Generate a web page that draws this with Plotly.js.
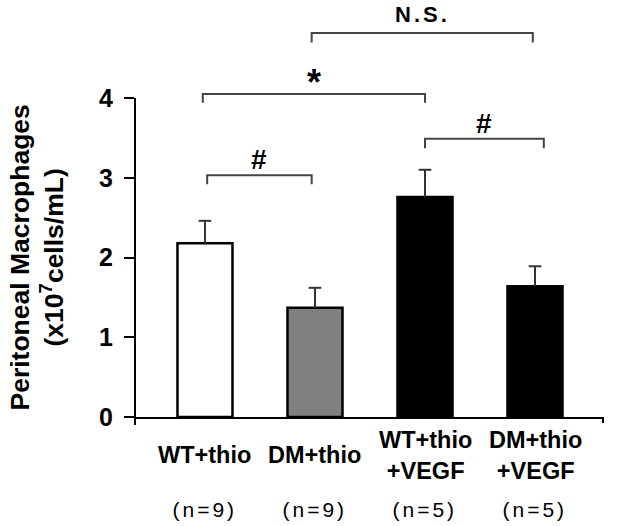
<!DOCTYPE html>
<html>
<head>
<meta charset="utf-8">
<script src="https://cdn.plot.ly/plotly-3.0.1.min.js"></script>
<style>
  html, body { margin: 0; padding: 0; background: #fff; }
  #chart { width: 617px; height: 526px; }
</style>
</head>
<body>
<div id="chart"></div>
<script>
// ---- data ----
const categories = ["WT+thio", "DM+thio", "WT+thio<br>+VEGF", "DM+thio<br>+VEGF"];
const sampleSizes = ["(n=9)", "(n=9)", "(n=5)", "(n=5)"];
const meanValues = [2.18, 1.37, 2.76, 1.64];
const semValues = [0.28, 0.25, 0.34, 0.25];
const barColors = ["#ffffff", "#808080", "#000000", "#000000"];
const yTicks = [0, 1, 2, 3, 4];

// significance brackets (category positions and heights in data units)
const bracketStart = [0.02, -0.02, 0.97, 2.0];
const bracketEnd   = [0.97, 2.0, 2.98, 3.08];
const bracketTop   = [3.03, 4.05, 4.815, 3.49];
const bracketLeg   = [0.11, 0.11, 0.12, 0.12];
const bracketLabel = ["#", "*", "N.S.", "#"];

const FONT = "Liberation Sans, Arial, Helvetica, sans-serif";
const yMax = 5.229;
const xRange = [-0.636, 3.618];
const xIdx = categories.map((_, i) => i);

const barTrace = {
  type: "bar",
  x: xIdx,
  y: meanValues,
  width: 0.5,
  marker: { color: barColors, line: { color: "#000", width: 2.5 } },
  hoverinfo: "skip"
};

// upper-only error bars: stems and caps derived from the data arrays
const stemX = [], stemY = [];
xIdx.forEach((x, i) => {
  stemX.push(x, x, null);
  stemY.push(meanValues[i], meanValues[i] + semValues[i], null);
});
const stemTrace = {
  type: "scatter", mode: "lines", x: stemX, y: stemY,
  line: { color: "#333", width: 2 }, hoverinfo: "skip"
};
const capTrace = {
  type: "scatter", mode: "markers", x: xIdx,
  y: meanValues.map((m, i) => m + semValues[i]),
  marker: { symbol: "line-ew", size: 9, color: "#333", line: { color: "#333", width: 2 } },
  hoverinfo: "skip"
};

const shapes = [];
// y axis line (0..4) and small extensions
shapes.push({ type: "line", xref: "paper", yref: "paper", x0: 0, x1: 0,
  y0: -8 / 417, y1: 4 / yMax, line: { color: "#000", width: 2 } });
shapes.push({ type: "line", xref: "paper", yref: "paper", x0: 1, x1: 1,
  y0: 0, y1: -6 / 417, line: { color: "#000", width: 2 } });

const annotations = [];
for (let i = 0; i < bracketLabel.length; i++) {
  const x0 = bracketStart[i], x1 = bracketEnd[i], yt = bracketTop[i], yl = yt - bracketLeg[i];
  shapes.push({ type: "path", xref: "x", yref: "y",
    path: `M ${x0} ${yl} L ${x0} ${yt} L ${x1} ${yt} L ${x1} ${yl}`,
    line: { color: "#444", width: 2 } });
  const lab = bracketLabel[i];
  const isStar = lab === "*";
  const isNS = lab === "N.S.";
  annotations.push({
    xref: "x", yref: "y", x: (x0 + x1) / 2, y: yt,
    text: lab, showarrow: false, xanchor: "center", yanchor: "bottom",
    yshift: isStar ? -11 : (isNS ? 4 : -2),
    font: { family: FONT, size: isStar ? 36 : (isNS ? 22 : 28), color: "#000", weight: 700 }
  });
}

// x category labels
for (let i = 0; i < categories.length; i++) {
  annotations.push({
    xref: "x", yref: "paper", x: i, y: 0, yanchor: "middle", xanchor: "center",
    yshift: -38, text: categories[i], showarrow: false,
    font: { family: FONT, size: 23.5, color: "#000", weight: 700 }
  });
  annotations.push({
    xref: "x", yref: "paper", x: i, y: 0, yanchor: "middle", xanchor: "center",
    yshift: -92, text: sampleSizes[i], showarrow: false,
    font: { family: FONT, size: 21, color: "#000" }
  });
}

// y axis title
annotations.push({
  xref: "paper", yref: "y", x: 0, y: 2, xanchor: "center", yanchor: "middle",
  xshift: -99, textangle: -90, showarrow: false,
  text: "Peritoneal Macrophages<br>(x10<sup>7</sup>cells/mL)",
  font: { family: FONT, size: 26.5, color: "#000", weight: 700 }
});

const layout = {
  width: 617, height: 526,
  margin: { l: 135, r: 14, t: 0, b: 109 },
  paper_bgcolor: "#fff", plot_bgcolor: "#fff",
  showlegend: false,
  xaxis: {
    range: xRange, showline: true, linecolor: "#000", linewidth: 2,
    showgrid: false, zeroline: false, ticks: "", showticklabels: false, fixedrange: true
  },
  yaxis: {
    range: [0, yMax], tickvals: yTicks, ticktext: yTicks.map(String),
    showline: false, showgrid: false, zeroline: false,
    ticks: "outside", ticklen: 10, tickwidth: 2, tickcolor: "#000",
    ticklabelstandoff: 6,
    tickfont: { family: FONT, size: 25, color: "#000", weight: 700 }, fixedrange: true
  },
  shapes: shapes,
  annotations: annotations
};

Plotly.newPlot("chart", [barTrace, stemTrace, capTrace], layout, { displayModeBar: false, staticPlot: true }).then(() => {
  document.querySelectorAll(".annotation-text").forEach(t => {
    const s = t.textContent;
    if (s.startsWith("(n=")) t.style.letterSpacing = "3px";
    if (s === "N.S.") t.style.letterSpacing = "3px";
  });
});
</script>
</body>
</html>
